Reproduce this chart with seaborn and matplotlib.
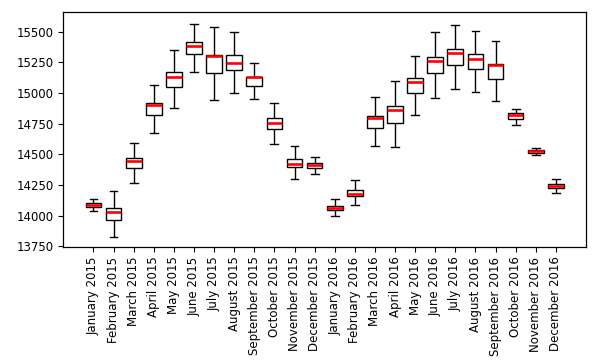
import matplotlib
matplotlib.use("Agg")
import matplotlib.pyplot as plt
import seaborn as sns
import pandas as pd

months = ["January 2015", "February 2015", "March 2015", "April 2015", "May 2015",
          "June 2015", "July 2015", "August 2015", "September 2015", "October 2015",
          "November 2015", "December 2015", "January 2016", "February 2016",
          "March 2016", "April 2016", "May 2016", "June 2016", "July 2016",
          "August 2016", "September 2016", "October 2016", "November 2016",
          "December 2016"]

whisker_low = [14041, 13829, 14269, 14676, 14879, 15172, 14944, 15004, 14952, 14586,
               14301, 14341, 14000, 14089, 14564, 14556, 14822, 14960, 15031, 15012,
               14936, 14741, 14493, 14184]
q1 = [14073, 13967, 14391, 14822, 15050, 15319, 15166, 15188, 15055, 14708,
      14399, 14391, 14049, 14163, 14716, 14757, 15001, 15164, 15229, 15196,
      15115, 14789, 14510, 14228]
median = [14089, 14033, 14448, 14903, 15131, 15386, 15305, 15245, 15131, 14757,
          14423, 14415, 14065, 14173, 14792, 14865, 15093, 15264, 15326, 15278,
          15231, 14822, 14529, 14244]
q3 = [14102, 14065, 14472, 14920, 15172, 15416, 15307, 15310, 15134, 14798,
      14464, 14428, 14081, 14212, 14811, 14895, 15123, 15294, 15359, 15321,
      15237, 14835, 14537, 14260]
whisker_high = [14133, 14203, 14594, 15066, 15351, 15563, 15541, 15497, 15245, 14922,
                14564, 14474, 14138, 14293, 14969, 15099, 15305, 15500, 15557, 15508,
                15427, 14873, 14553, 14295]

rows = []
for i, m in enumerate(months):
    for v in (whisker_low[i], q1[i], median[i], q3[i], whisker_high[i]):
        rows.append({"month": m, "value": v})
df = pd.DataFrame(rows)

plt.rcParams["font.size"] = 8.5

fig = plt.figure(figsize=(6, 3.63), dpi=100)
ax = fig.add_axes([0.1055, 0.32, 0.8712, 0.646])

sns.boxplot(data=df, x="month", y="value", order=months, whis=(0, 100),
            width=0.78, ax=ax, color="white", linecolor="black", linewidth=1,
            saturation=1,
            medianprops=dict(color="red", linewidth=1.9),
            showfliers=False)

ax.set_xlim(-1.5, 24.5)
ax.set_ylim(13745, 15658)
ax.set_yticks([13750, 14000, 14250, 14500, 14750, 15000, 15250, 15500])
ax.set_xlabel("")
ax.set_ylabel("")
ax.tick_params(axis="x", labelrotation=90)
for s in ax.spines.values():
    s.set_visible(True)
    s.set_color("black")
    s.set_linewidth(0.9)

fig.savefig("out.png", dpi=100)
